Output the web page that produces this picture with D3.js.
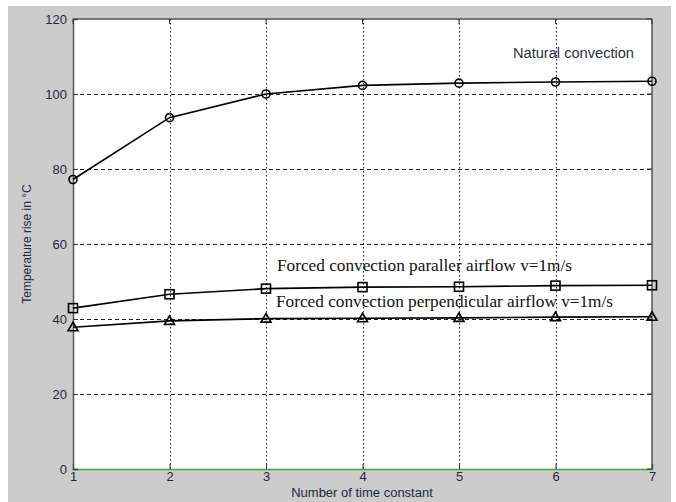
<!DOCTYPE html>
<html>
<head>
<meta charset="utf-8">
<script src="https://cdn.jsdelivr.net/npm/d3@7"></script>
<style>
  html, body { margin: 0; padding: 0; background: #fff; }
  svg { display: block; }
</style>
</head>
<body>
<svg id="chart" width="676" height="502"></svg>
<script>
// Time constants on the x axis
const timeConstants = [1, 2, 3, 4, 5, 6, 7];
// Temperature rise (°C) for each cooling condition
const naturalConvection = [77.2, 93.7, 100.0, 102.3, 102.9, 103.2, 103.4];
const parallelAirflow = [42.9, 46.6, 48.1, 48.5, 48.6, 48.9, 49.0];
const perpendicularAirflow = [37.8, 39.5, 40.1, 40.2, 40.3, 40.5, 40.6];
// Tick labels
const xTicks = [1, 2, 3, 4, 5, 6, 7];
const yTicks = [0, 20, 40, 60, 80, 100, 120];

const svg = d3.select("#chart");
const W = 676, H = 502;
const plot = { left: 73, top: 19, right: 652, bottom: 469 };

// figure background
svg.append("rect").attr("x", 8).attr("y", 6).attr("width", 663).attr("height", H - 6).attr("fill", "#cccccc");
svg.append("rect").attr("x", plot.left).attr("y", plot.top)
  .attr("width", plot.right - plot.left).attr("height", plot.bottom - plot.top).attr("fill", "#ffffff");

const x = d3.scaleLinear().domain([1, 7]).range([plot.left, plot.right]);
const y = d3.scaleLinear().domain([0, 120]).range([plot.bottom, plot.top]);

// grid: dashed horizontal, dotted vertical
const grid = svg.append("g");
grid.selectAll("line.h").data(yTicks.filter(v => v > 0 && v < 120)).join("line")
  .attr("x1", plot.left).attr("x2", plot.right)
  .attr("y1", d => Math.round(y(d)) + 0.5).attr("y2", d => Math.round(y(d)) + 0.5)
  .attr("stroke", "#222").attr("stroke-width", 1).attr("stroke-dasharray", "4,3");
grid.selectAll("line.v").data(xTicks.filter(v => v > 1 && v < 7)).join("line")
  .attr("y1", plot.top).attr("y2", plot.bottom)
  .attr("x1", d => Math.round(x(d)) + 0.5).attr("x2", d => Math.round(x(d)) + 0.5)
  .attr("stroke", "#222").attr("stroke-width", 1).attr("stroke-dasharray", "1.5,2.5");

// axes
const xAxis = d3.axisBottom(x).tickValues(xTicks).tickSize(-5).tickPadding(3).tickFormat(d3.format("d"));
const yAxis = d3.axisLeft(y).tickValues(yTicks).tickSize(-5).tickPadding(6).tickFormat(d3.format("d"));

const gx = svg.append("g").attr("transform", `translate(0,${plot.bottom})`).call(xAxis);
gx.select(".domain").attr("stroke", "#4a9a4a").attr("stroke-width", 1.5);
gx.selectAll(".tick line").attr("stroke", "#333");
gx.selectAll(".tick text").attr("font-family", "Arial, 'Liberation Sans', sans-serif")
  .attr("font-size", 13).attr("fill", "#1e2a3a");

const gy = svg.append("g").attr("transform", `translate(${plot.left},0)`).call(yAxis);
gy.select(".domain").attr("stroke", "#555").attr("stroke-width", 1.5);
gy.selectAll(".tick line").attr("stroke", "#333");
gy.selectAll(".tick text").attr("font-family", "Arial, 'Liberation Sans', sans-serif")
  .attr("font-size", 13).attr("fill", "#1e2a3a");

// top and right box edges with inward ticks
svg.append("line").attr("x1", plot.left).attr("x2", plot.right).attr("y1", plot.top).attr("y2", plot.top)
  .attr("stroke", "#555").attr("stroke-width", 1.5);
svg.append("line").attr("x1", plot.right).attr("x2", plot.right).attr("y1", plot.top).attr("y2", plot.bottom)
  .attr("stroke", "#555").attr("stroke-width", 1.5);
svg.selectAll("line.tt").data(xTicks).join("line")
  .attr("x1", d => x(d)).attr("x2", d => x(d)).attr("y1", plot.top).attr("y2", plot.top + 5)
  .attr("stroke", "#333");
svg.selectAll("line.rt").data(yTicks).join("line")
  .attr("y1", d => y(d)).attr("y2", d => y(d)).attr("x1", plot.right).attr("x2", plot.right - 5)
  .attr("stroke", "#333");

// series
const series = [
  { values: naturalConvection, marker: "circle" },
  { values: parallelAirflow, marker: "square" },
  { values: perpendicularAirflow, marker: "triangle" }
];
const line = d3.line().x(d => x(d[0])).y(d => y(d[1]));
series.forEach(s => {
  const pts = timeConstants.map((t, i) => [t, s.values[i]]);
  svg.append("path").datum(pts).attr("d", line)
    .attr("fill", "none").attr("stroke", "#000").attr("stroke-width", 1.6);
  const g = svg.append("g");
  if (s.marker === "circle") {
    g.selectAll("circle").data(pts).join("circle")
      .attr("cx", d => x(d[0])).attr("cy", d => y(d[1])).attr("r", 4)
      .attr("fill", "none").attr("stroke", "#000").attr("stroke-width", 1.6);
  } else if (s.marker === "square") {
    g.selectAll("rect").data(pts).join("rect")
      .attr("x", d => x(d[0]) - 4.5).attr("y", d => y(d[1]) - 4.5)
      .attr("width", 9).attr("height", 9)
      .attr("fill", "none").attr("stroke", "#000").attr("stroke-width", 1.6);
  } else {
    g.selectAll("path").data(pts).join("path")
      .attr("d", d => {
        const cx = x(d[0]), cy = y(d[1]);
        return `M${cx},${cy - 5}L${cx + 5},${cy + 3.5}L${cx - 5},${cy + 3.5}Z`;
      })
      .attr("fill", "none").attr("stroke", "#000").attr("stroke-width", 1.6);
  }
});

// annotations
svg.append("text").attr("x", 513).attr("y", 58)
  .attr("font-family", "Arial, 'Liberation Sans', sans-serif").attr("font-size", 14)
  .attr("textLength", 121).attr("lengthAdjust", "spacingAndGlyphs")
  .attr("fill", "#2a3040").text("Natural convection");
svg.append("text").attr("x", 277).attr("y", 271)
  .attr("font-family", "'Times New Roman', 'Liberation Serif', serif").attr("font-size", 16)
  .attr("textLength", 295).attr("lengthAdjust", "spacingAndGlyphs")
  .attr("fill", "#111").text("Forced convection paraller airflow v=1m/s");
svg.append("text").attr("x", 276).attr("y", 307)
  .attr("font-family", "'Times New Roman', 'Liberation Serif', serif").attr("font-size", 16)
  .attr("textLength", 337).attr("lengthAdjust", "spacingAndGlyphs")
  .attr("fill", "#111").text("Forced convection perpendicular airflow v=1m/s");

// axis titles
svg.append("text").attr("x", 362).attr("y", 497).attr("text-anchor", "middle")
  .attr("font-family", "Arial, 'Liberation Sans', sans-serif").attr("font-size", 13)
  .attr("fill", "#1e2a3a").text("Number of time constant");
svg.append("text").attr("transform", "translate(31,244) rotate(-90)").attr("text-anchor", "middle")
  .attr("font-family", "Arial, 'Liberation Sans', sans-serif").attr("font-size", 12)
  .attr("fill", "#1e2a3a").text("Temperature rise in °C");
</script>
</body>
</html>
